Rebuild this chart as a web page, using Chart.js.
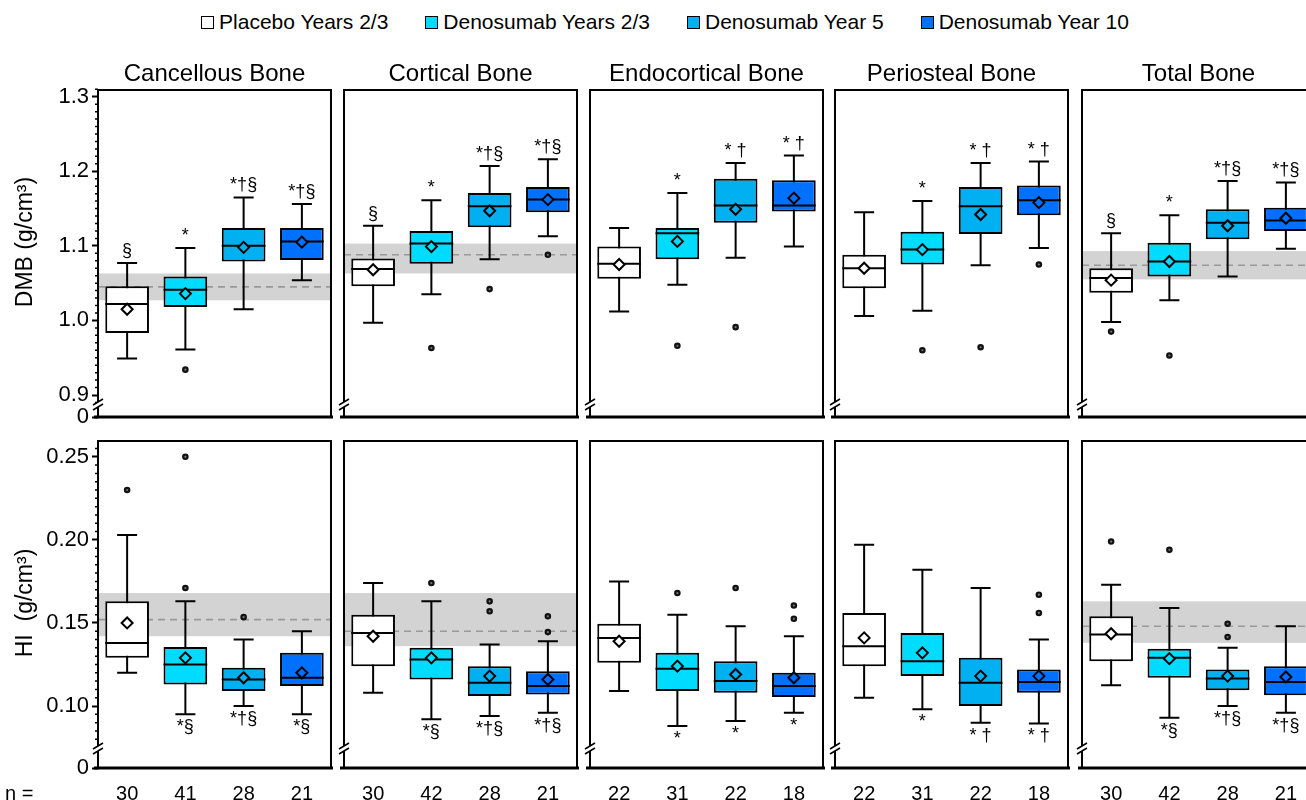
<!DOCTYPE html>
<html>
<head>
<meta charset="utf-8">
<script src="https://cdn.jsdelivr.net/npm/chart.js@4.4.1/dist/chart.umd.min.js"></script>
<style>
  html, body { margin: 0; padding: 0; background: #fff; }
  #page { position: relative; width: 1306px; height: 800px; overflow: hidden; background: #fff;
          font-family: 'Liberation Sans', Arial, Helvetica, sans-serif; }
  canvas.cv { position: absolute; }
  #legend { position: absolute; left: 0; top: 10px; width: 1306px; box-sizing: border-box; padding-left: 24px;
            display: flex; justify-content: center; font-size: 21px; line-height: 24px; color: #000; }
  #legend .item { display: flex; align-items: center; margin-right: 37px; white-space: nowrap; }
  #legend .item:last-child { margin-right: 0; }
  #legend .swatch { width: 13px; height: 13px; box-sizing: border-box; border: 1.5px solid #000; margin-right: 5px; }
</style>
</head>
<body>
<div id="page"><div id="legend"></div></div>
<script>
// ---- groups, regions and sample sizes ----
const groups = ['Placebo Years 2/3', 'Denosumab Years 2/3', 'Denosumab Year 5', 'Denosumab Year 10'];
const groupColors = ['#FFFFFF', '#00DCFF', '#00B0F0', '#0070FF'];
const regions = ['Cancellous Bone', 'Cortical Bone', 'Endocortical Bone', 'Periosteal Bone', 'Total Bone'];
const nCounts = [[30, 41, 28, 21], [30, 42, 28, 21], [22, 31, 22, 18], [22, 31, 22, 18], [30, 42, 28, 21]];

// ---- DMB (g/cm3): per region, per group [whisker low, Q1, median, Q3, whisker high] ----
const dmbStats = [
  [[0.949, 0.983, 1.022, 1.046, 1.077], [0.961, 1.018, 1.041, 1.059, 1.097], [1.015, 1.079, 1.100, 1.124, 1.165], [1.054, 1.081, 1.106, 1.124, 1.156]],
  [[0.997, 1.046, 1.069, 1.083, 1.127], [1.035, 1.076, 1.103, 1.120, 1.161], [1.082, 1.125, 1.153, 1.171, 1.207], [1.113, 1.145, 1.162, 1.179, 1.216]],
  [[1.012, 1.056, 1.076, 1.099, 1.124], [1.048, 1.082, 1.117, 1.124, 1.171], [1.084, 1.131, 1.154, 1.190, 1.211], [1.099, 1.146, 1.154, 1.188, 1.221]],
  [[1.006, 1.043, 1.070, 1.088, 1.145], [1.013, 1.075, 1.095, 1.119, 1.160], [1.074, 1.116, 1.153, 1.179, 1.211], [1.097, 1.141, 1.161, 1.181, 1.213]],
  [[0.998, 1.037, 1.057, 1.070, 1.117], [1.027, 1.059, 1.079, 1.104, 1.141], [1.059, 1.109, 1.131, 1.149, 1.187], [1.096, 1.120, 1.134, 1.151, 1.185]]
];
const dmbMeans = [
  [1.015, 1.036, 1.098, 1.105],
  [1.068, 1.099, 1.147, 1.162],
  [1.075, 1.106, 1.149, 1.164],
  [1.070, 1.095, 1.142, 1.158],
  [1.054, 1.079, 1.127, 1.137]
];
const dmbOutliers = [
  [[], [0.934], [], []],
  [[], [0.963], [1.042], [1.088]],
  [[], [0.966], [0.991], []],
  [[], [0.960], [0.964], [1.075]],
  [[0.985], [0.953], [], []]
];
// reference range [low, mean, high]
const dmbRefBand = [[1.027, 1.045, 1.063], [1.063, 1.088, 1.103], null, null, [1.055, 1.074, 1.093]];
const dmbMarks = [
  ['§', '*', '*†§', '*†§'],
  ['§', '*', '*†§', '*†§'],
  ['', '*', '* †', '* †'],
  ['', '*', '* †', '* †'],
  ['§', '*', '*†§', '*†§']
];

// ---- HI (g/cm3) ----
const hiStats = [
  [[0.120, 0.129, 0.138, 0.163, 0.203], [0.095, 0.113, 0.125, 0.1355, 0.163], [0.100, 0.109, 0.116, 0.123, 0.140], [0.095, 0.112, 0.117, 0.132, 0.145]],
  [[0.108, 0.124, 0.144, 0.155, 0.174], [0.092, 0.116, 0.128, 0.135, 0.163], [0.094, 0.106, 0.114, 0.124, 0.137], [0.096, 0.107, 0.112, 0.121, 0.139]],
  [[0.109, 0.126, 0.141, 0.1495, 0.175], [0.088, 0.109, 0.1225, 0.132, 0.155], [0.091, 0.108, 0.115, 0.127, 0.148], [0.096, 0.1055, 0.112, 0.120, 0.142]],
  [[0.105, 0.124, 0.136, 0.156, 0.197], [0.098, 0.118, 0.127, 0.144, 0.182], [0.090, 0.100, 0.114, 0.129, 0.171], [0.0895, 0.108, 0.1145, 0.122, 0.140]],
  [[0.1125, 0.127, 0.143, 0.154, 0.173], [0.093, 0.117, 0.129, 0.1345, 0.159], [0.100, 0.1095, 0.1165, 0.122, 0.135], [0.096, 0.1065, 0.1145, 0.124, 0.148]]
];
const hiMeans = [
  [0.150, 0.129, 0.117, 0.120],
  [0.142, 0.129, 0.118, 0.116],
  [0.139, 0.124, 0.119, 0.117],
  [0.141, 0.132, 0.118, 0.118],
  [0.1435, 0.1285, 0.118, 0.1175]
];
const hiOutliers = [
  [[0.230], [0.171, 0.250], [0.1535], []],
  [[], [0.174], [0.157, 0.163], [0.1445, 0.154]],
  [[], [0.168], [0.171], [0.1525, 0.1605]],
  [[], [], [], [0.156, 0.167]],
  [[0.199], [0.194], [0.1415, 0.1495], []]
];
const hiRefBand = [[0.142, 0.152, 0.168], [0.136, 0.145, 0.168], null, null, [0.138, 0.148, 0.163]];
const hiMarks = [
  ['', '*§', '*†§', '*§'],
  ['', '*§', '*†§', '*†§'],
  ['', '*', '*', '*'],
  ['', '*', '* †', '* †'],
  ['', '*§', '*†§', '*†§']
];

// ---- layout ----
const FONT = "'Liberation Sans', Arial, Helvetica, sans-serif";
Chart.defaults.font.family = FONT;
Chart.defaults.color = '#000';

const PANEL_W = 233;
const panelLefts = [98, 344, 590, 835, 1082];
const CAP = 10;
const rowBox = [
  { top: 90, bottom: 417, canvasTop: 44, canvasBottom: 434, yMin: 0.8705, yMax: 1.309,
    majors: [0.9, 1.0, 1.1, 1.2, 1.3], majorStep: 0.1, digits: 1,
    minorFrom: 0.89, minorTo: 1.305, minorStep: 0.01, breakUp: 12,
    yTitle: 'DMB (g/cm³)', yTitleY: 242 },
  { top: 441, bottom: 768, canvasTop: 424, canvasBottom: 800, yMin: 0.0627, yMax: 0.2595,
    majors: [0.10, 0.15, 0.20, 0.25], majorStep: 0.05, digits: 2,
    minorFrom: 0.08, minorTo: 0.255, minorStep: 0.005, breakUp: 19,
    yTitle: 'HI  (g/cm³)', yTitleY: 603 }
];

const page = document.getElementById('page');

// legend row
const legend = document.getElementById('legend');
groups.forEach((g, i) => {
  const item = document.createElement('div');
  item.className = 'item';
  const sw = document.createElement('span');
  sw.className = 'swatch';
  sw.style.background = groupColors[i];
  const tx = document.createElement('span');
  tx.textContent = g;
  item.appendChild(sw);
  item.appendChild(tx);
  legend.appendChild(item);
});

function makePanel(row, col) {
  const R = rowBox[row];
  const isTop = row === 0;
  const stats = (isTop ? dmbStats : hiStats)[col];
  const means = (isTop ? dmbMeans : hiMeans)[col];
  const outl = (isTop ? dmbOutliers : hiOutliers)[col];
  const band = (isTop ? dmbRefBand : hiRefBand)[col];
  const marks = (isTop ? dmbMarks : hiMarks)[col];

  const leftExtra = col === 0 ? panelLefts[0] : 10;
  const rightExtra = 8;
  const canvas = document.createElement('canvas');
  canvas.className = 'cv';
  canvas.width = leftExtra + PANEL_W + rightExtra;
  canvas.height = R.canvasBottom - R.canvasTop;
  canvas.style.left = (panelLefts[col] - leftExtra) + 'px';
  canvas.style.top = R.canvasTop + 'px';
  page.appendChild(canvas);

  const outlierPoints = [];
  outl.forEach((list, g) => list.forEach(v => outlierPoints.push({ x: groups[g], y: v })));

  const boxPanel = {
    id: 'boxPanel',
    beforeDatasetsDraw(chart) {
      const { ctx, chartArea: a, scales: { x, y } } = chart;
      ctx.save();
      if (band) {
        const yt = y.getPixelForValue(band[2]);
        const yb = y.getPixelForValue(band[0]);
        ctx.fillStyle = '#D3D3D3';
        ctx.fillRect(a.left, yt, a.right - a.left, yb - yt);
        const ym = y.getPixelForValue(band[1]);
        ctx.strokeStyle = '#999999';
        ctx.lineWidth = 1.6;
        ctx.setLineDash([7, 5]);
        ctx.beginPath();
        ctx.moveTo(a.left, ym);
        ctx.lineTo(a.right, ym);
        ctx.stroke();
        ctx.setLineDash([]);
      }
      // whiskers with caps
      ctx.strokeStyle = '#000';
      ctx.lineWidth = 2;
      stats.forEach((s, i) => {
        const px = x.getPixelForValue(i);
        const lo = y.getPixelForValue(s[0]);
        const hi = y.getPixelForValue(s[4]);
        ctx.beginPath();
        ctx.moveTo(px, lo); ctx.lineTo(px, hi);
        ctx.moveTo(px - CAP, lo); ctx.lineTo(px + CAP, lo);
        ctx.moveTo(px - CAP, hi); ctx.lineTo(px + CAP, hi);
        ctx.stroke();
      });
      ctx.restore();
    },
    afterDatasetDraw(chart, args) {
      if (args.index !== 0) return;
      const { ctx, scales: { y } } = chart;
      ctx.save();
      ctx.strokeStyle = '#000';
      ctx.lineWidth = 2;
      args.meta.data.forEach((bar, i) => {
        const py = y.getPixelForValue(stats[i][2]);
        ctx.beginPath();
        ctx.moveTo(bar.x - bar.width / 2, py);
        ctx.lineTo(bar.x + bar.width / 2, py);
        ctx.stroke();
      });
      ctx.restore();
    },
    afterDatasetsDraw(chart) {
      const { ctx, chartArea: a, scales: { x, y } } = chart;
      ctx.save();
      // panel frame
      ctx.strokeStyle = '#000';
      ctx.lineWidth = 2;
      ctx.strokeRect(a.left, a.top, a.right - a.left, a.bottom - a.top);
      ctx.lineWidth = 3;
      ctx.beginPath();
      ctx.moveTo(a.left - 4, a.bottom);
      ctx.lineTo(a.right + 2, a.bottom);
      ctx.stroke();

      // minor ticks on the labelled axis
      if (col === 0) {
        ctx.lineWidth = 1.5;
        ctx.beginPath();
        const k0 = Math.round(R.minorFrom / R.minorStep);
        const k1 = Math.round(R.minorTo / R.minorStep);
        for (let k = k0; k <= k1; k++) {
          const v = k * R.minorStep;
          const r = v / R.majorStep;
          if (Math.abs(r - Math.round(r)) < 1e-6) continue;
          const py = y.getPixelForValue(v);
          ctx.moveTo(a.left - 3, py);
          ctx.lineTo(a.left, py);
        }
        ctx.stroke();
      }

      // axis break marker
      const yb = a.bottom - R.breakUp;
      const L = a.left;
      ctx.fillStyle = '#fff';
      ctx.beginPath();
      ctx.moveTo(L - 5, yb); ctx.lineTo(L + 5, yb - 6);
      ctx.lineTo(L + 5, yb - 1); ctx.lineTo(L - 5, yb + 5);
      ctx.closePath();
      ctx.fill();
      ctx.lineWidth = 1.5;
      ctx.beginPath();
      ctx.moveTo(L - 5, yb); ctx.lineTo(L + 5, yb - 6);
      ctx.moveTo(L - 5, yb + 5); ctx.lineTo(L + 5, yb - 1);
      ctx.stroke();

      // significance marks
      ctx.fillStyle = '#000';
      ctx.font = '18px ' + FONT;
      ctx.textAlign = 'center';
      stats.forEach((s, i) => {
        if (!marks[i]) return;
        const px = x.getPixelForValue(i);
        if (isTop) {
          ctx.textBaseline = 'alphabetic';
          ctx.fillText(marks[i], px, y.getPixelForValue(s[4]) - 7);
        } else {
          ctx.textBaseline = 'top';
          ctx.fillText(marks[i], px, y.getPixelForValue(s[0]) + 4);
        }
      });

      // region title
      if (isTop) {
        ctx.font = '24px ' + FONT;
        ctx.textBaseline = 'alphabetic';
        ctx.fillText(regions[col], (a.left + a.right) / 2, a.top - 9);
      }

      // y-axis title and sample-size caption
      if (col === 0) {
        ctx.save();
        ctx.font = '23px ' + FONT;
        ctx.translate(32, R.yTitleY - R.canvasTop);
        ctx.rotate(-Math.PI / 2);
        ctx.textAlign = 'center';
        ctx.textBaseline = 'alphabetic';
        ctx.fillText(R.yTitle, 0, 0);
        ctx.restore();
        if (!isTop) {
          ctx.font = '20px ' + FONT;
          ctx.textAlign = 'left';
          ctx.textBaseline = 'middle';
          ctx.fillText('n =', 5, a.bottom + 26);
        }
      }
      ctx.restore();
    }
  };

  new Chart(canvas, {
    data: {
      labels: groups,
      datasets: [
        { type: 'bar', label: 'box', data: stats.map(s => [s[1], s[3]]),
          backgroundColor: groupColors, borderColor: '#000', borderWidth: 2, borderSkipped: false,
          categoryPercentage: 1, barPercentage: 0.75, order: 3 },
        { type: 'line', label: 'mean', data: means, showLine: false,
          pointStyle: 'rectRot', pointRadius: 5.5, pointBorderWidth: 2,
          pointBorderColor: '#000', pointBackgroundColor: groupColors, order: 2 },
        { type: 'line', label: 'outliers', data: outlierPoints, showLine: false,
          pointStyle: 'circle', pointRadius: 2.2, pointBorderWidth: 2.2,
          pointBorderColor: '#111', pointBackgroundColor: '#777', order: 1 }
      ]
    },
    options: {
      responsive: false,
      animation: false,
      events: [],
      layout: { padding: { left: 0, right: rightExtra, top: R.top - R.canvasTop, bottom: 0 } },
      plugins: { legend: { display: false }, tooltip: { enabled: false } },
      scales: {
        x: {
          display: true,
          grid: { display: false, drawTicks: false },
          border: { display: false },
          ticks: { display: !isTop, color: '#000', font: { size: 20 }, padding: 14, maxRotation: 0, autoSkip: false,
                   callback: (v, i) => String(nCounts[col][i]) },
          afterFit: s => { s.height = R.canvasBottom - R.bottom; }
        },
        y: {
          display: true,
          min: R.yMin, max: R.yMax, bounds: 'data',
          afterBuildTicks: s => { s.ticks = [R.yMin, ...R.majors].map(v => ({ value: v })); },
          ticks: { display: col === 0, color: '#000', font: { size: 22 }, padding: 3,
                   callback: v => (v === R.yMin ? '0' : v.toFixed(R.digits)) },
          grid: { display: col === 0, drawOnChartArea: false, drawTicks: col === 0, tickLength: 6, tickWidth: 2, tickColor: '#000' },
          border: { display: false },
          afterFit: s => { s.width = leftExtra; }
        }
      }
    },
    plugins: [boxPanel]
  });
}

for (let r = 0; r < 2; r++) {
  for (let c = 0; c < 5; c++) makePanel(r, c);
}
</script>
</body>
</html>
